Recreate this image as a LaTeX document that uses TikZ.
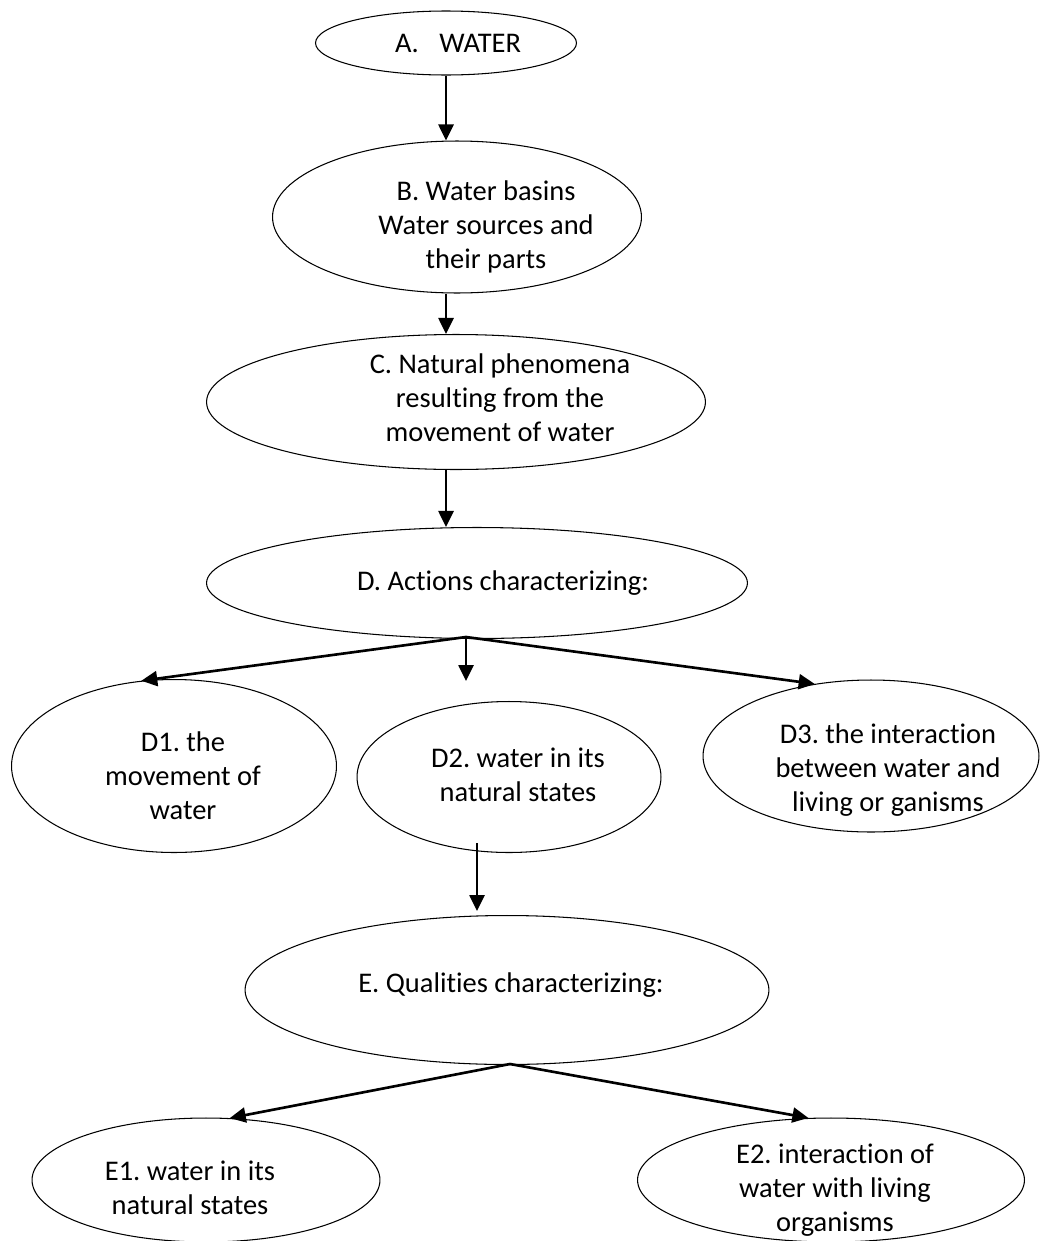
\documentclass[tikz,border=0pt]{standalone}
\usepackage{fontspec}
\setmainfont{Carlito}[Ligatures={NoCommon}]
\usetikzlibrary{arrows.meta,positioning,calc,shapes.geometric}
\frenchspacing

\begin{document}
\begin{tikzpicture}[x=0.02cm, y=-0.02cm, >={Triangle[length=0.32cm,width=0.3cm]},
 oval/.style={draw,ellipse,line width=0.6pt,inner sep=0pt},
 txt/.style={align=center,inner sep=0pt,font=\fontsize{16.2}{19.3}\selectfont},
 arr/.style={->,line width=1.5pt}]
\useasboundingbox (0,0) rectangle (1039,1241);
% ellipses
\node[oval,minimum width=5.22cm,minimum height=1.28cm] (a) at (446,43) {};
\node[oval,minimum width=7.38cm,minimum height=3.04cm] (b) at (457,217) {};
\node[oval,minimum width=9.98cm,minimum height=2.70cm] (c) at (456,402) {};
\node[oval,minimum width=10.82cm,minimum height=2.22cm] (d) at (477,583) {};
\node[oval,minimum width=6.50cm,minimum height=3.46cm] (d1) at (174,766) {};
\node[oval,minimum width=6.08cm,minimum height=3.02cm] (d2) at (509,777) {};
\node[oval,minimum width=6.72cm,minimum height=3.04cm] (d3) at (871,756) {};
\node[oval,minimum width=10.48cm,minimum height=2.98cm] (e) at (507,990) {};
\node[oval,minimum width=6.96cm,minimum height=2.48cm] (e1) at (206,1180) {};
\node[oval,minimum width=7.74cm,minimum height=2.48cm] (e2) at (831,1180) {};
% texts
\node[txt] (at) at (458,43) {A.\enspace\ WATER};
\node[txt] (bt) at (486,227) {B. Water basins\\Water sources and\\their parts};
\node[txt] (ct) at (500,398) {C. Natural phenomena\\resulting from the\\movement of water};
\node[txt] (dt) at (503,583) {D. Actions characterizing:};
\node[txt] (d1t) at (183,776) {D1. the\\movement of\\water};
\node[txt] (d2t) at (518,775) {D2. water in its\\natural states};
\node[txt] (d3t) at (888,770) {D3. the interaction\\between water and\\living or ganisms};
\node[txt] (et) at (511,985) {E. Qualities characterizing:};
\node[txt] (e1t) at (190,1188) {E1. water in its\\natural states};
\node[txt] (e2t) at (835,1190) {E2. interaction of\\water with living\\organisms};
% connectors
\coordinate (dj) at (466,637);
\coordinate (ej) at (510,1064);
\draw[arr] (a.south) -- (a.south |- b.north);
\draw[arr] (b.south -| a.south) -- (c.north -| a.south);
\draw[arr] (c.south -| a.south) -- (d.north -| a.south);
\draw[arr] (dj) -- (d1.111);
\draw[arr,shorten >=0.4cm] (dj) -- (dj |- d2.north);
\draw[arr] (dj) -- (d3.128);
\draw[arr] ($(d2.south)+(-32,-10)$) -- ($(e.north)+(-30,-4)$);
\draw[arr] (ej) -- (e1.69);
\draw[arr] (ej) -- (e2.110);
\end{tikzpicture}
\end{document}
